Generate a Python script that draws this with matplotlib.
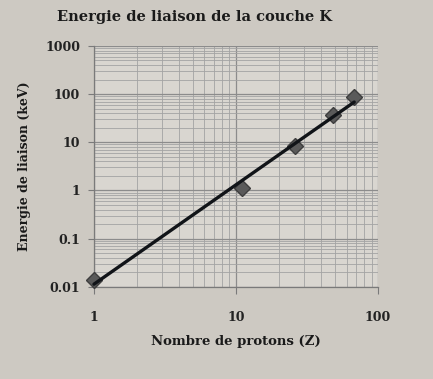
import matplotlib.pyplot as plt
import numpy as np

# Valeurs
protons = [1, 11, 26, 48, 68]
energie_kev = [0.0136, 1.1, 8.5, 36, 85]

titre = "Energie de liaison de la couche K"
label_x = "Nombre de protons (Z)"
label_y = "Energie de liaison (keV)"

serif = "DejaVu Serif"

fig = plt.figure(figsize=(4.33, 3.79), dpi=100, facecolor="#cdc9c2")
ax = fig.add_axes([0.217, 0.243, 0.656, 0.636])
ax.set_facecolor("#d9d6d0")

ax.set_xscale("log")
ax.set_yscale("log")
ax.set_xlim(1, 100)
ax.set_ylim(0.01, 1000)

# grille majeure et mineure
ax.grid(True, which="major", color="#8c8c8c", linewidth=0.9)
ax.grid(True, which="minor", color="#a3a3a3", linewidth=0.6)
ax.set_axisbelow(True)

# courbe de tendance (loi de puissance)
z = np.array(protons, dtype=float)
e = np.array(energie_kev, dtype=float)
pente, origine = np.polyfit(np.log10(z), np.log10(e), 1)
z_fit = np.array([z.min(), z.max()])
e_fit = 10 ** (origine + pente * np.log10(z_fit))

ax.plot(protons, energie_kev, linestyle="none", marker="D", markersize=8,
        markerfacecolor="#5a5a5a", markeredgecolor="#3e3e3e", zorder=3,
        clip_on=False)
ax.plot(z_fit, e_fit, color="#111418", linewidth=2.4, zorder=4,
        solid_capstyle="round", clip_on=False)

for s in ["top", "right"]:
    ax.spines[s].set_visible(False)
for s in ["left", "bottom"]:
    ax.spines[s].set_color("#7a7a7a")
    ax.spines[s].set_linewidth(0.9)

ax.set_xticks([1, 10, 100])
ax.set_xticklabels(["1", "10", "100"])
ax.set_yticks([0.01, 0.1, 1, 10, 100, 1000])
ax.set_yticklabels(["0.01", "0.1", "1", "10", "100", "1000"])
ax.tick_params(axis="both", which="minor", length=0)
ax.tick_params(axis="x", which="major", length=5, color="#7a7a7a", pad=12)
ax.tick_params(axis="y", which="major", length=4, color="#7a7a7a", pad=6)
for lab in ax.get_xticklabels() + ax.get_yticklabels():
    lab.set_fontfamily(serif)
    lab.set_fontweight("bold")
    lab.set_fontsize(9)
    lab.set_color("#222222")

ax.set_xlabel(label_x, fontfamily=serif, fontweight="bold", fontsize=9.5,
              color="#1a1a1a", labelpad=8)
ax.set_ylabel(label_y, fontfamily=serif, fontweight="bold", fontsize=9,
              color="#1a1a1a", labelpad=10)
fig.text(0.45, 0.955, titre, ha="center", va="center", fontfamily=serif,
         fontweight="bold", fontsize=10.5, color="#1a1a1a")

fig.savefig("out.png", dpi=100, facecolor=fig.get_facecolor())
